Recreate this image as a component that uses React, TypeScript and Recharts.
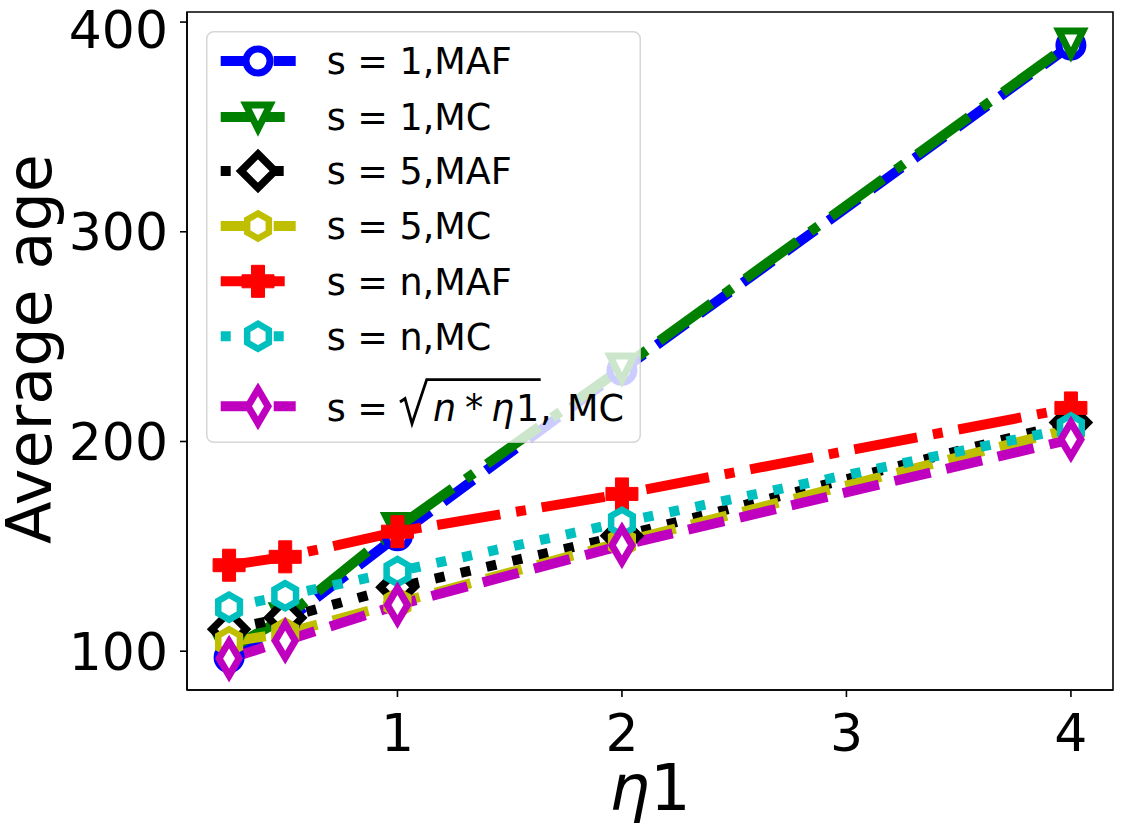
import React from 'react';
import { LineChart, Line, XAxis, YAxis, Legend, ReferenceArea } from 'recharts';

// eta1 values on the x axis
const eta = [0.25, 0.5, 1, 2, 4];

// average age per configuration
const s1Maf = [97, 114, 155, 234, 389];
const s1Mc = [101, 116, 159, 235, 390];
const s5Maf = [110.5, 116, 130.5, 155, 209];
const s5Mc = [104.5, 108.5, 123, 152, 206];
const snMaf = [141, 145, 157, 175, 216];
const snMc = [121, 126.5, 138, 161.5, 206.5];
const sqrtMc = [96.5, 105, 122, 150.5, 201];

const xTicks = [1, 2, 3, 4];
const yTicks = [100, 200, 300, 400];
const xDomain = [0.0625, 4.1875];
const yDomain = [81.5, 404.8];

const FONT = "'DejaVu Sans', sans-serif";
const LW = 10;
const DASHED = '37 16';
const DASHDOT = '64 16 10 16';
const DOTTED = '10 16.5';

type MarkerKind = 'circle' | 'triDown' | 'diamond' | 'hexagon' | 'plus' | 'thinDiamond';

interface SeriesDef {
  key: string;
  label: string;
  color: string;
  dash: string;
  marker: MarkerKind;
  values: number[];
}

const series: SeriesDef[] = [
  { key: 's1Maf', label: 's = 1,MAF', color: '#0000ff', dash: DASHED, marker: 'circle', values: s1Maf },
  { key: 's1Mc', label: 's = 1,MC', color: '#008000', dash: DASHDOT, marker: 'triDown', values: s1Mc },
  { key: 's5Maf', label: 's = 5,MAF', color: '#000000', dash: DOTTED, marker: 'diamond', values: s5Maf },
  { key: 's5Mc', label: 's = 5,MC', color: '#bfbf00', dash: DASHED, marker: 'hexagon', values: s5Mc },
  { key: 'snMaf', label: 's = n,MAF', color: '#ff0000', dash: DASHDOT, marker: 'plus', values: snMaf },
  { key: 'snMc', label: 's = n,MC', color: '#00bfbf', dash: DOTTED, marker: 'hexagon', values: snMc },
  { key: 'sqrtMc', label: 'sqrt', color: '#bf00bf', dash: DASHED, marker: 'thinDiamond', values: sqrtMc },
];

const data = eta.map((x, i) => {
  const row: Record<string, number> = { x };
  series.forEach((s) => {
    row[s.key] = s.values[i];
  });
  return row;
});

function pts(list: number[][]) {
  return list.map((p) => p.join(',')).join(' ');
}

function Marker({ kind, color, cx, cy }: { kind: MarkerKind; color: string; cx: number; cy: number }) {
  const common = { stroke: color, strokeLinejoin: 'miter' as const, strokeMiterlimit: 10 };
  switch (kind) {
    case 'circle':
      return <circle cx={cx} cy={cy} r={12} fill="#fff" strokeWidth={7} {...common} />;
    case 'triDown':
      return (
        <polygon
          points={pts([[cx, cy + 12], [cx - 12, cy - 12], [cx + 12, cy - 12]])}
          fill="#fff"
          strokeWidth={7}
          {...common}
        />
      );
    case 'diamond':
      return (
        <polygon
          points={pts([[cx, cy - 17], [cx + 17, cy], [cx, cy + 17], [cx - 17, cy]])}
          fill="#fff"
          strokeWidth={7.5}
          {...common}
        />
      );
    case 'hexagon': {
      const r = 12.5;
      const p = [0, 1, 2, 3, 4, 5].map((k) => {
        const a = ((90 + 60 * k) * Math.PI) / 180;
        return [cx + r * Math.cos(a), cy - r * Math.sin(a)];
      });
      return <polygon points={pts(p)} fill="#fff" strokeWidth={6.5} {...common} />;
    }
    case 'plus': {
      const h = 16;
      const a = 6.5;
      return (
        <polygon
          points={pts([
            [cx - a, cy - h], [cx + a, cy - h], [cx + a, cy - a], [cx + h, cy - a],
            [cx + h, cy + a], [cx + a, cy + a], [cx + a, cy + h], [cx - a, cy + h],
            [cx - a, cy + a], [cx - h, cy + a], [cx - h, cy - a], [cx - a, cy - a],
          ])}
          fill={color}
          strokeWidth={1}
          {...common}
        />
      );
    }
    case 'thinDiamond':
    default:
      return (
        <polygon
          points={pts([[cx, cy - 17], [cx + 10, cy], [cx, cy + 17], [cx - 10, cy]])}
          fill="#fff"
          strokeWidth={7}
          {...common}
        />
      );
  }
}

const renderDot = (s: SeriesDef) => (props: any) => {
  if (props.cx == null || props.cy == null) return <g key={`${s.key}-${props.index}`} />;
  return <Marker key={`${s.key}-${props.index}`} kind={s.marker} color={s.color} cx={props.cx} cy={props.cy} />;
};

// legend box placement (page pixels)
const LEG_W = 435;
const LEG_H = 412;
const rowCenters = [30, 86, 140, 195, 250.3, 305.3, 375.3];
const textStyle = { fontFamily: FONT, fontSize: 36.5, fill: '#000' };

function LegendBox() {
  return (
    <svg width={LEG_W} height={LEG_H} style={{ display: 'block', overflow: 'visible' }}>
      <rect
        x={0.75}
        y={0.75}
        width={LEG_W - 1.5}
        height={LEG_H - 1.5}
        rx={7}
        fill="#fff"
        fillOpacity={0.8}
        stroke="#cccccc"
        strokeOpacity={0.8}
        strokeWidth={1.5}
      />
      {series.map((s, i) => {
        const cy = rowCenters[i];
        const base = cy + 13.3;
        return (
          <g key={s.key}>
            <line x1={14.7} x2={89.7} y1={cy} y2={cy} stroke={s.color} strokeWidth={LW} strokeDasharray={s.dash} />
            <Marker kind={s.marker} color={s.color} cx={52} cy={cy} />
            {s.key !== 'sqrtMc' ? (
              <text x={120.7} y={base} {...textStyle}>
                {s.label}
              </text>
            ) : (
              <g>
                <text x={120.7} y={base + 1} {...textStyle}>s =</text>
                <path
                  d="M 194 371 L 199 367.5 L 206 392.6 L 220.7 348.6 L 334.7 348.6"
                  fill="none"
                  stroke="#000"
                  strokeWidth={2.8}
                />
                <text x={227} y={base + 1} {...textStyle} fontStyle="italic">n</text>
                <text x={259} y={base + 1} {...textStyle}>*</text>
                <text x={285} y={base + 1} {...textStyle} fontStyle="italic">η</text>
                <text x={310} y={base + 1} {...textStyle}>1</text>
                <text x={334} y={base + 1} {...textStyle}>,</text>
                <text x={361} y={base + 1} {...textStyle}>MC</text>
              </g>
            )}
          </g>
        );
      })}
    </svg>
  );
}

const tickStyle = { fontFamily: FONT, fontSize: 52, fill: '#000' };

export default function App() {
  return (
    <div style={{ position: 'absolute', left: 0, top: 0, width: 1125, height: 828, background: '#fff' }}>
      <LineChart width={1125} height={828} data={data} margin={{ top: 12, right: 12, bottom: 0, left: 0 }}>
        <XAxis
          dataKey="x"
          type="number"
          domain={xDomain}
          ticks={xTicks}
          allowDataOverflow
          height={138}
          tick={tickStyle}
          tickSize={7}
          tickMargin={17}
          axisLine={{ stroke: '#000', strokeWidth: 1.6 }}
          tickLine={{ stroke: '#000', strokeWidth: 1.6 }}
          label={() => (
            <text x={650} y={810} textAnchor="middle" fontFamily={FONT} fontSize={64} fill="#000">
              <tspan fontStyle="italic">η</tspan>
              <tspan>1</tspan>
            </text>
          )}
        />
        <YAxis
          type="number"
          domain={yDomain}
          ticks={yTicks}
          allowDataOverflow
          width={187}
          tick={tickStyle}
          tickSize={7}
          tickMargin={12}
          axisLine={{ stroke: '#000', strokeWidth: 1.6 }}
          tickLine={{ stroke: '#000', strokeWidth: 1.6 }}
          label={() => (
            <text
              x={51}
              y={349}
              transform="rotate(-90 51 349)"
              textAnchor="middle"
              fontFamily={FONT}
              fontSize={62}
              fill="#000"
            >
              Average age
            </text>
          )}
        />
        <ReferenceArea
          x1={xDomain[0]}
          x2={xDomain[1]}
          y1={yDomain[0]}
          y2={yDomain[1]}
          fill="none"
          stroke="#000"
          strokeWidth={1.6}
        />
        {series.map((s) => (
          <Line
            key={s.key}
            dataKey={s.key}
            type="linear"
            stroke={s.color}
            strokeWidth={LW}
            strokeDasharray={s.dash}
            dot={renderDot(s)}
            activeDot={false}
            isAnimationActive={false}
          />
        ))}
        <Legend
          layout="vertical"
          align="center"
          verticalAlign="middle"
          width={LEG_W}
          height={LEG_H}
          wrapperStyle={{ left: 206, top: 30.7, width: LEG_W, height: LEG_H }}
          content={() => <LegendBox />}
        />
      </LineChart>
    </div>
  );
}
